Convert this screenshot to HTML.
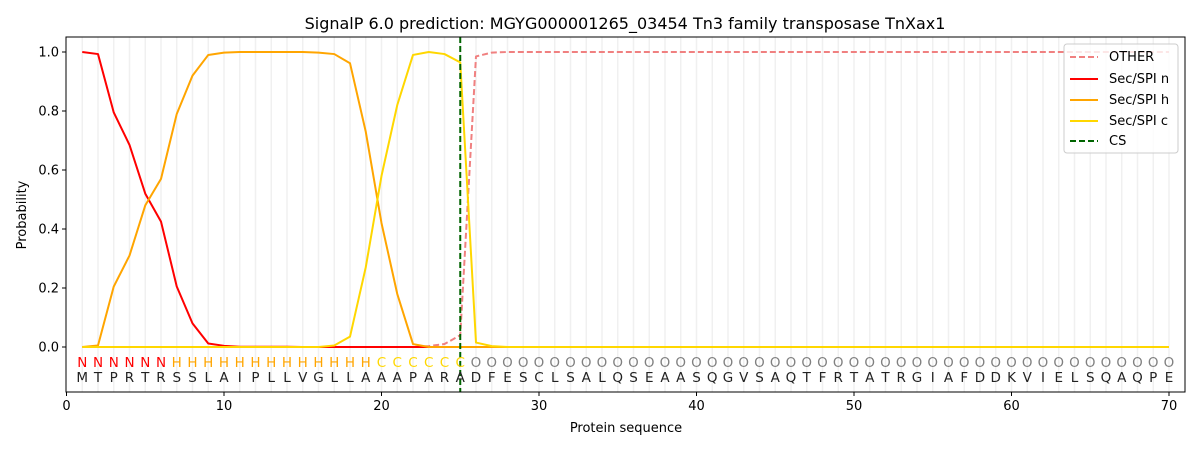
<!DOCTYPE html>
<html><head><meta charset="utf-8"><style>
body{margin:0;background:#fff;}
svg text{font-family:"DejaVu Sans","Liberation Sans",sans-serif;}
</style></head><body>
<svg id="chart" width="1200" height="450" xmlns="http://www.w3.org/2000/svg">
<g id="grid"></g>
<g id="marks"></g>
<g id="labels"></g>
<g id="axes"></g>
<text x="625" y="29" font-size="16" text-anchor="middle">SignalP 6.0 prediction: MGYG000001265_03454 Tn3 family transposase TnXax1</text>
<text x="626" y="432" font-size="13" text-anchor="middle">Protein sequence</text>
<text x="26" y="215" font-size="13" text-anchor="middle" transform="rotate(-90 26 215)">Probability</text>
<g>
<rect x="1064" y="44" width="114" height="109" rx="3" fill="#fff" fill-opacity="0.8" stroke="#ccc"/>
<line x1="1070" y1="57" x2="1098" y2="57" stroke="#f08080" stroke-width="2" stroke-dasharray="6,3"/>
<text x="1109" y="61" font-size="13">OTHER</text>
<line x1="1070" y1="79" x2="1098" y2="79" stroke="#ff0000" stroke-width="2"/>
<text x="1109" y="83" font-size="13">Sec/SPI n</text>
<line x1="1070" y1="100" x2="1098" y2="100" stroke="#ffa500" stroke-width="2"/>
<text x="1109" y="104" font-size="13">Sec/SPI h</text>
<line x1="1070" y1="121" x2="1098" y2="121" stroke="#ffd700" stroke-width="2"/>
<text x="1109" y="125" font-size="13">Sec/SPI c</text>
<line x1="1070" y1="141" x2="1098" y2="141" stroke="#006400" stroke-width="2" stroke-dasharray="6,3"/>
<text x="1109" y="145" font-size="13">CS</text>
</g>
</svg>
<script>
const sequence = "MTPRTRSSLAIPLLVGLLAAAPARADFESCLSALQSEAASQGVSAQTFRTATRGIAFDDKVIELSQAQPE".split("");
const regionLabels = "NNNNNNHHHHHHHHHHHHHCCCCCC".split("").concat(Array(45).fill("O"));
const probN = [1.0,0.993,0.795,0.685,0.52,0.425,0.205,0.08,0.012,0.004,0.001,0.001,0.001,0.001,0,0,0,0,0,0,0,0,0,0,0].concat(Array(45).fill(0));
const probH = [0,0.005,0.205,0.31,0.48,0.57,0.79,0.92,0.99,0.998,1,1,1,1,1,0.998,0.993,0.962,0.73,0.42,0.18,0.01,0,0,0].concat(Array(45).fill(0));
const probC = [0,0,0,0,0,0,0,0,0,0,0,0,0,0,0,0,0.005,0.035,0.27,0.58,0.82,0.99,1.0,0.993,0.965,0.015,0.003].concat(Array(43).fill(0));
const probOther = [0,0,0,0,0,0,0,0,0,0,0,0,0,0,0,0,0,0,0,0,0,0,0.003,0.01,0.04,0.985,0.998].concat(Array(43).fill(1));
const csPos = 25;
const xTicks = [0,10,20,30,40,50,60,70];
const yTicks = [0,0.2,0.4,0.6,0.8,1.0];

const NS="http://www.w3.org/2000/svg";
const X0=66,X1=1185,Y0=37,Y1=392;
const xs=v=>66.5+15.75*v;
const ys=v=>347-295*v;
function mk(tag,attrs,parent){const e=document.createElementNS(NS,tag);for(const k in attrs)e.setAttribute(k,attrs[k]);parent.appendChild(e);return e;}
const grid=document.getElementById('grid'),marks=document.getElementById('marks'),labels=document.getElementById('labels'),axes=document.getElementById('axes');
sequence.forEach((s,i)=>{
  const l=mk('line',{x1:xs(i+1),x2:xs(i+1),y1:Y0,y2:Y1,stroke:'#f0f0f0','stroke-width':1.5},grid);
  
  
  const t=mk('text',{x:xs(i+1),y:382,'font-size':13.5,'text-anchor':'middle',fill:'#222'},labels);
  t.textContent=s;
  
  
  const r=regionLabels[i];
  const col=r==='N'?'#ff0000':r==='H'?'#ffa500':r==='C'?'#ffd700':'#808080';
  const t2=mk('text',{x:xs(i+1),y:367,'font-size':13.5,'text-anchor':'middle',fill:col},labels);
  t2.textContent=r;
  
  
});
function series(arr,color,name,dash){
  const p=mk('polyline',{points:arr.map((v,i)=>xs(i+1)+','+ys(v)).join(' '),fill:'none',stroke:color,'stroke-width':2,'stroke-linejoin':'round'},marks);
  if(dash)p.setAttribute('stroke-dasharray',dash);
  
  
}
series(probOther,'#f08080','line-other','6,3');
series(probN,'#ff0000','line-sec-spi-n');
series(probH,'#ffa500','line-sec-spi-h');
series(probC,'#ffd700','line-sec-spi-c');
const cs=mk('line',{x1:xs(csPos),x2:xs(csPos),y1:Y0,y2:Y1,stroke:'#006400','stroke-width':2,'stroke-dasharray':'6,3'},marks);


const fr=mk('rect',{x:X0,y:Y0,width:X1-X0,height:Y1-Y0,fill:'none',stroke:'#000','stroke-width':1},axes);


xTicks.forEach(v=>{
  mk('line',{x1:xs(v),x2:xs(v),y1:Y1,y2:Y1+4,stroke:'#000'},axes);
  const t=mk('text',{x:xs(v),y:Y1+18,'font-size':13,'text-anchor':'middle'},axes);
  t.textContent=v;
  
  
});
yTicks.forEach(v=>{
  mk('line',{x1:X0-4,x2:X0,y1:ys(v),y2:ys(v),stroke:'#000'},axes);
  const t=mk('text',{x:X0-7,y:ys(v)+4.5,'font-size':13,'text-anchor':'end'},axes);
  t.textContent=v.toFixed(1);
  
  
});
</script>
</body></html>
